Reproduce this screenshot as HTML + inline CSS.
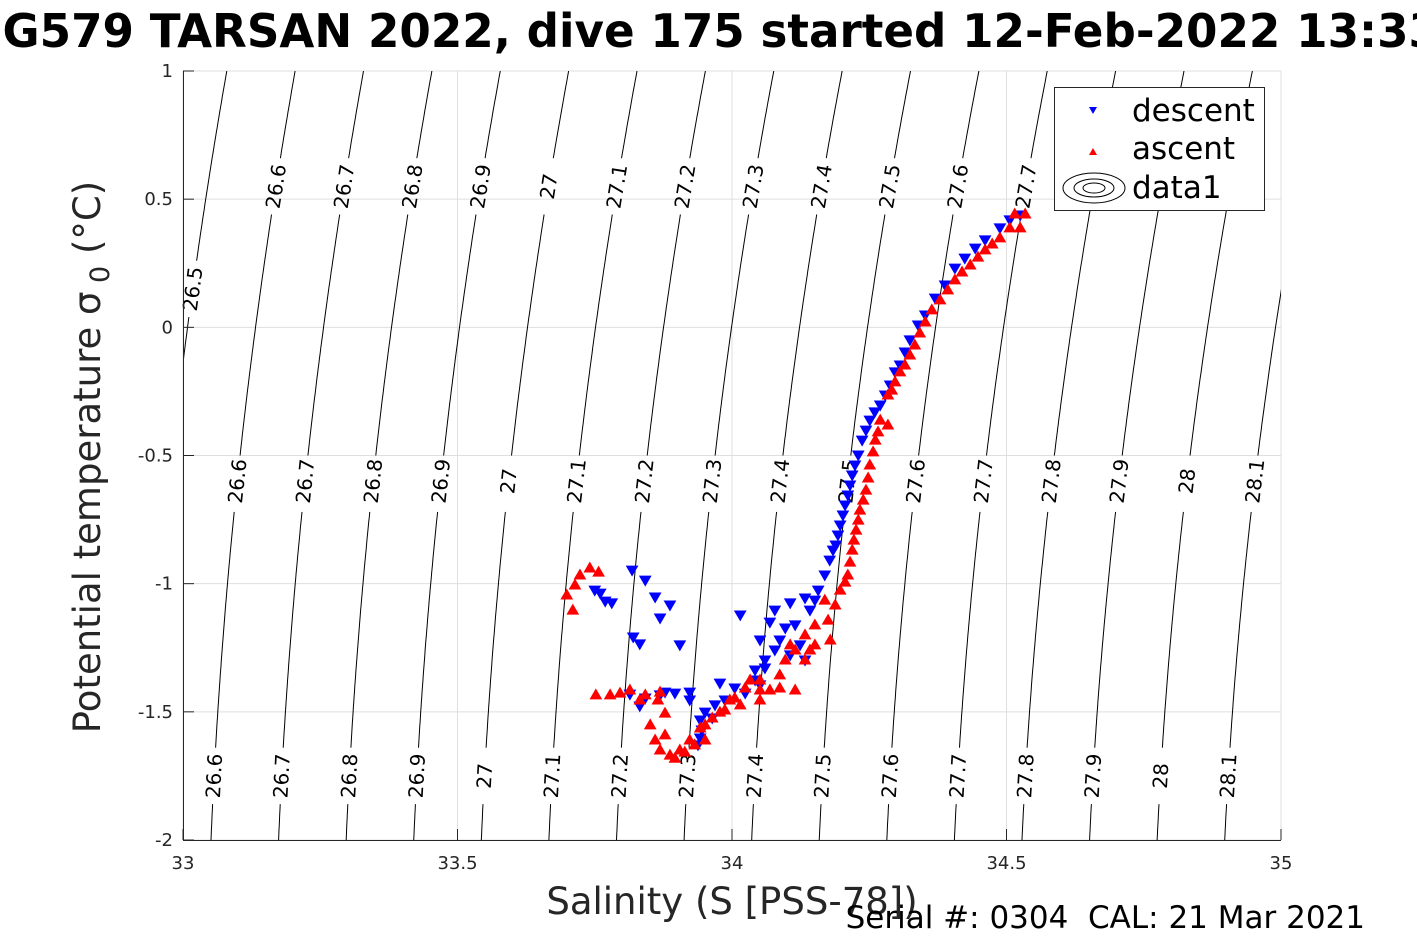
<!DOCTYPE html>
<html><head><meta charset="utf-8">
<style>
html,body{margin:0;padding:0;background:#fff;overflow:hidden;}
svg{display:block;font-family:"DejaVu Sans","Liberation Sans",sans-serif;}
</style></head>
<body>
<svg id="chart" width="1417" height="945" viewBox="0 0 1417 945" xmlns="http://www.w3.org/2000/svg">
<defs><clipPath id="plotclip"><rect x="183" y="71" width="1098" height="769"/></clipPath></defs>
<rect x="0" y="0" width="1417" height="945" fill="#fff"/>
<text x="-30" y="47" text-anchor="start" textLength="1470" lengthAdjust="spacingAndGlyphs" font-size="46" font-weight="bold" fill="#000">SG579 TARSAN 2022, dive 175 started 12-Feb-2022 13:33</text>
<g id="grid"></g>
<g id="contours" clip-path="url(#plotclip)"></g>
<g id="clabels"></g>
<g id="descent" clip-path="url(#plotclip)"></g>
<g id="ascent" clip-path="url(#plotclip)"></g>
<g id="axes"></g>
<text x="732" y="914" text-anchor="middle" font-size="37" fill="#262626">Salinity (S [PSS-78])</text>
<text transform="translate(100,457) rotate(-90)" text-anchor="middle" font-size="37" fill="#262626">Potential temperature σ<tspan font-size="27" dy="9"> 0</tspan><tspan dy="-9"> (°C)</tspan></text>
<text x="1365" y="928" text-anchor="end" font-size="31" fill="#000">Serial #: 0304 &#160;CAL: 21 Mar 2021</text>
<g>
  <rect x="1054.5" y="87.5" width="210" height="123" fill="#fff" stroke="#262626" stroke-width="1"/>
  <path d="M1089,107 L1097,107 L1093,114 Z" fill="#00f"/>
  <text x="1132" y="121" font-size="31" fill="#000">descent</text>
  <path d="M1089,155 L1097,155 L1093,148 Z" fill="#f00"/>
  <text x="1132" y="159" font-size="31" fill="#000">ascent</text>
  <g fill="none" stroke="#000" stroke-width="1">
    <ellipse cx="1094" cy="188" rx="31" ry="15"/><ellipse cx="1094" cy="188" rx="20" ry="9"/><ellipse cx="1094" cy="188" rx="11" ry="5"/>
  </g>
  <text x="1132" y="198" font-size="31" fill="#000">data1</text>
</g>
</svg>
<script>
const xTicks = [33, 33.5, 34, 34.5, 35];
const xTickLabels = ["33", "33.5", "34", "34.5", "35"];
const yTicks = [1, 0.5, 0, -0.5, -1, -1.5, -2];
const yTickLabels = ["1", "0.5", "0", "-0.5", "-1", "-1.5", "-2"];
const sigmaLevels = [26.5,26.6,26.7,26.8,26.9,27.0,27.1,27.2,27.3,27.4,27.5,27.6,27.7,27.8,27.9,28.0,28.1,28.2];
const sigmaLabelText = ["26.5","26.6","26.7","26.8","26.9","27","27.1","27.2","27.3","27.4","27.5","27.6","27.7","27.8","27.9","28","28.1","28.2"];
const descentS = [34.506,34.488,34.461,34.424,34.388,34.352,34.324,34.306,34.288,34.270,34.251,34.237,34.224,34.215,34.206,34.197,34.189,34.178,34.169,34.157,34.133,34.106,34.078,34.069,34.097,34.124,34.133,34.106,34.078,34.060,34.051,34.024,34.005,33.987,33.964,33.945,33.938,33.942,33.923,33.896,33.869,33.842,33.832,33.814,33.820,33.832,33.869,33.860,33.842,33.818,33.905,33.887,33.760,33.769,33.781,33.750,34.015,34.051,33.978,34.042,34.151,
 34.525,34.443,34.406,34.370,34.339,34.315,34.297,34.279,34.260,34.244,34.230,34.219,34.211,34.202,34.193,34.184,
 33.969,33.951,33.942,34.042,34.060,34.087,34.115,34.142,33.923,33.878];
const descentT = [0.419,0.388,0.341,0.270,0.165,0.048,-0.049,-0.147,-0.225,-0.303,-0.362,-0.440,-0.537,-0.615,-0.693,-0.771,-0.849,-0.908,-0.966,-1.025,-1.056,-1.075,-1.103,-1.150,-1.173,-1.239,-1.298,-1.278,-1.259,-1.329,-1.395,-1.427,-1.407,-1.454,-1.524,-1.571,-1.629,-1.532,-1.454,-1.427,-1.434,-1.446,-1.477,-1.431,-1.208,-1.235,-1.134,-1.052,-0.986,-0.947,-1.239,-1.083,-1.037,-1.068,-1.075,-1.025,-1.122,-1.220,-1.388,-1.337,-1.064,
 0.438,0.309,0.231,0.114,0.009,-0.096,-0.174,-0.264,-0.330,-0.401,-0.498,-0.576,-0.654,-0.732,-0.810,-0.869,
 -1.473,-1.501,-1.602,-1.376,-1.298,-1.220,-1.161,-1.103,-1.423,-1.423];
const ascentS = [34.534,34.515,34.506,34.488,34.461,34.434,34.406,34.379,34.352,34.333,34.315,34.297,34.284,34.270,34.284,34.261,34.251,34.244,34.233,34.226,34.219,34.211,34.197,34.188,34.175,34.179,34.151,34.133,34.106,34.142,34.097,34.069,34.087,34.051,34.024,34.005,33.987,33.964,33.942,33.923,33.905,33.887,33.869,33.860,33.851,33.878,33.865,33.842,33.814,33.778,33.752,33.869,33.951,34.033,33.723,33.741,33.757,33.714,33.699,33.710,34.051,34.115,34.169,
 34.525,34.474,34.448,34.419,34.393,34.364,34.342,34.324,34.306,34.291,34.266,34.257,34.248,34.239,34.230,34.222,34.215,34.206,
 34.115,34.133,34.151,34.087,34.051,34.015,33.978,33.951,33.932,33.914,33.896,33.878,33.832,33.796,33.996];
const ascentT = [0.442,0.442,0.388,0.349,0.302,0.243,0.185,0.107,0.021,-0.069,-0.147,-0.213,-0.264,-0.362,-0.381,-0.440,-0.537,-0.635,-0.713,-0.791,-0.869,-0.966,-1.025,-1.083,-1.142,-1.220,-1.161,-1.200,-1.239,-1.259,-1.298,-1.415,-1.407,-1.376,-1.407,-1.446,-1.493,-1.524,-1.563,-1.610,-1.649,-1.669,-1.649,-1.610,-1.551,-1.505,-1.454,-1.434,-1.415,-1.434,-1.434,-1.423,-1.610,-1.376,-0.966,-0.939,-0.955,-1.005,-1.044,-1.103,-1.454,-1.415,-1.064,
 0.388,0.325,0.274,0.216,0.146,0.068,-0.022,-0.108,-0.174,-0.245,-0.408,-0.486,-0.588,-0.674,-0.752,-0.830,-0.916,-0.994,
 -1.259,-1.298,-1.239,-1.356,-1.415,-1.473,-1.501,-1.551,-1.629,-1.657,-1.681,-1.590,-1.454,-1.427,-1.454];

const NS='http://www.w3.org/2000/svg';
const X0=183,X1=1281,Y0=71,Y1=840;
function sx(s){return X0+(s-33)/(35-33)*(X1-X0);}
function ty(t){return Y1-(t-(-2))/(1-(-2))*(Y1-Y0);}
function isoS(sig,t){const d=t+2;return 33.051+(sig-26.6)*1.231+(0.0195*d+0.01053*d*d)*(1+(sig-26.6)*0.094);}
function mk(tag,attrs,parent){const e=document.createElementNS(NS,tag);for(const k in attrs)e.setAttribute(k,attrs[k]);parent.appendChild(e);return e;}

const grid=document.getElementById('grid');
xTicks.forEach((v,i)=>{
  const gl=mk('line',{x1:sx(v),x2:sx(v),y1:Y0,y2:Y1,stroke:'#dfdfdf','stroke-width':1},grid);
  
  
});
yTicks.forEach((v,i)=>{
  const gl=mk('line',{x1:X0,x2:X1,y1:ty(v),y2:ty(v),stroke:'#dfdfdf','stroke-width':1},grid);
  
  
});

const cont=document.getElementById('contours'),clab=document.getElementById('clabels');
const rowT=[0.55,-0.6,-1.75];
sigmaLevels.forEach((sig,i)=>{
  let labTs=[];
  if(sig<26.55){labTs=[0.15];}
  else{
    if(sig<27.75) labTs.push(rowT[0]);
    labTs.push(rowT[1]); labTs.push(rowT[2]);
  }
  labTs=labTs.filter(t=>{const x=sx(isoS(sig,t));return x>X0+5&&x<X1-10;});
  const gap=0.1;
  let segs=[],cur=[];
  for(let t=-2;t<=1.0001;t+=0.02){
    const inGap=labTs.some(lt=>Math.abs(t-lt)<gap);
    if(inGap){if(cur.length>1)segs.push(cur);cur=[];}
    else cur.push(sx(isoS(sig,t)).toFixed(1)+','+ty(t).toFixed(1));
  }
  if(cur.length>1)segs.push(cur);
  segs.forEach(sg=>{
    const pl=mk('polyline',{points:sg.join(' '),fill:'none',stroke:'#000','stroke-width':1},cont);
    
    
  });
  labTs.forEach(lt=>{
    const x=sx(isoS(sig,lt)),y=ty(lt);
    const dx=sx(isoS(sig,lt+0.05))-sx(isoS(sig,lt-0.05));
    const dy=ty(lt-0.05)-ty(lt+0.05);
    const ang=Math.atan2(dx,dy)*180/Math.PI;
    const tx=mk('text',{x:0,y:7,'text-anchor':'middle','font-size':20,fill:'#000',transform:'translate('+x.toFixed(1)+','+y.toFixed(1)+') rotate('+(-90+ang).toFixed(1)+')'},clab);
    tx.textContent=sigmaLabelText[i];
    
    
  });
});

const dg=document.getElementById('descent');
descentS.forEach((s,i)=>{
  const x=sx(s),y=ty(descentT[i]);
  const p=mk('path',{d:`M${x-5.5},${y-4} L${x+5.5},${y-4} L${x},${y+5.5} Z`,fill:'#00f',stroke:'#00f','stroke-width':1},dg);
  
  
});
const ag=document.getElementById('ascent');
ascentS.forEach((s,i)=>{
  const x=sx(s),y=ty(ascentT[i]);
  const p=mk('path',{d:`M${x-5.5},${y+4} L${x+5.5},${y+4} L${x},${y-5.5} Z`,fill:'#f00',stroke:'#f00','stroke-width':1},ag);
  
  
});

const ax=document.getElementById('axes');
const la=mk('line',{x1:X0+0.5,x2:X0+0.5,y1:Y0,y2:Y1,stroke:'#262626','stroke-width':1},ax);


const ba=mk('line',{x1:X0,x2:X1,y1:Y1+0.5,y2:Y1+0.5,stroke:'#262626','stroke-width':1},ax);


xTicks.forEach((v,i)=>{
  const tk=mk('line',{x1:sx(v),x2:sx(v),y1:Y1,y2:Y1-11,stroke:'#262626','stroke-width':1},ax);
  
  
  const t=mk('text',{x:sx(v),y:Y1+29,'text-anchor':'middle','font-size':18,fill:'#262626'},ax);
  t.textContent=xTickLabels[i];
  
  
});
yTicks.forEach((v,i)=>{
  const tk=mk('line',{x1:X0,x2:X0+11,y1:ty(v),y2:ty(v),stroke:'#262626','stroke-width':1},ax);
  
  
  const t=mk('text',{x:X0-10,y:ty(v)+6,'text-anchor':'end','font-size':18,fill:'#262626'},ax);
  t.textContent=yTickLabels[i];
  
  
});
</script>
</body></html>
